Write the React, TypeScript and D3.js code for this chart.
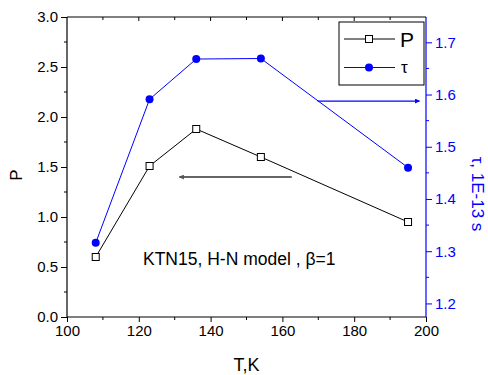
import React, { useEffect, useRef } from "react";
import * as d3 from "d3";

// data
const temps = [108, 123, 136, 154, 195];
const pValues = [0.6, 1.51, 1.88, 1.6, 0.95];
const tauValues = [1.316, 1.591, 1.668, 1.669, 1.46];

const xTicks = [100, 120, 140, 160, 180, 200];
const pTicks = [0, 0.5, 1.0, 1.5, 2.0, 2.5, 3.0];
const tauTicks = [1.2, 1.3, 1.4, 1.5, 1.6, 1.7];

const note = "KTN15, H-N model , \u03b2=1";

const W = 488,
  H = 375;
const margin = { left: 67, right: 62, top: 17, bottom: 58 };
const FONT = "'Liberation Sans', Arial, sans-serif";
const BLUE = "#0000ff";

const App = () => {
  const ref = useRef<SVGSVGElement>(null);

  useEffect(() => {
    const svg = d3.select(ref.current);
    svg.selectAll("*").remove();

    const x0 = margin.left,
      x1 = W - margin.right,
      y0 = H - margin.bottom,
      y1 = margin.top;

    const x = d3.scaleLinear().domain([100, 200]).range([x0, x1]);
    const yP = d3.scaleLinear().domain([0, 3]).range([y0, y1]);
    const yT = d3.scaleLinear().domain([1.174, 1.7485]).range([y0, y1]);

    const defs = svg.append("defs");
    const marker = (id: string, color: string) => {
      defs
        .append("marker")
        .attr("id", id)
        .attr("viewBox", "0 0 10 10")
        .attr("refX", 9)
        .attr("refY", 5)
        .attr("markerWidth", 7)
        .attr("markerHeight", 5)
        .attr("markerUnits", "userSpaceOnUse")
        .attr("orient", "auto")
        .append("path")
        .attr("d", "M0,0 L10,5 L0,10 Z")
        .attr("fill", color);
    };
    marker("arrBlue", BLUE);
    marker("arrGray", "#555");

    // bottom axis
    const bottom = svg
      .append("g")
      .attr("transform", `translate(0,${y0})`)
      .call(d3.axisBottom(x).tickValues(xTicks).tickSize(5).tickPadding(3).tickFormat(d3.format("d")));
    bottom
      .selectAll(".minor")
      .data(d3.range(110, 200, 20))
      .join("line")
      .attr("x1", (d) => x(d))
      .attr("x2", (d) => x(d))
      .attr("y1", 0)
      .attr("y2", 3)
      .attr("stroke", "#000");

    // top border with inward ticks
    svg
      .append("line")
      .attr("x1", x0)
      .attr("x2", x1)
      .attr("y1", y1)
      .attr("y2", y1)
      .attr("stroke", "#000");
    svg
      .append("g")
      .selectAll("line")
      .data(d3.range(110, 200, 10))
      .join("line")
      .attr("x1", (d) => x(d))
      .attr("x2", (d) => x(d))
      .attr("y1", y1)
      .attr("y2", (d) => y1 + (d % 20 === 0 ? 4 : 3))
      .attr("stroke", "#000");

    // left axis
    const left = svg
      .append("g")
      .attr("transform", `translate(${x0},0)`)
      .call(d3.axisLeft(yP).tickValues(pTicks).tickSize(6).tickPadding(3).tickFormat(d3.format(".1f")));
    left
      .selectAll(".minor")
      .data(d3.range(0.25, 3, 0.5))
      .join("line")
      .attr("x1", 0)
      .attr("x2", -3)
      .attr("y1", (d) => yP(d))
      .attr("y2", (d) => yP(d))
      .attr("stroke", "#000");

    // right axis
    const right = svg
      .append("g")
      .attr("transform", `translate(${x1},0)`)
      .call(d3.axisRight(yT).tickValues(tauTicks).tickSize(6).tickPadding(3).tickFormat(d3.format(".1f")));
    right
      .selectAll(".minor")
      .data([1.25, 1.35, 1.45, 1.55, 1.65])
      .join("line")
      .attr("x1", 0)
      .attr("x2", 3)
      .attr("y1", (d) => yT(d))
      .attr("y2", (d) => yT(d))
      .attr("stroke", BLUE);
    right.select(".domain").attr("d", `M0,${y0}V${y1}`);
    right.selectAll("line, path").attr("stroke", BLUE);
    right.selectAll("text").attr("fill", BLUE);

    svg.selectAll(".domain").attr("stroke-width", 1.2);
    left.select(".domain").attr("d", `M0,${y0}V${y1}`);
    bottom.select(".domain").attr("d", `M${x0},0H${x1}`);
    svg.selectAll(".tick text").attr("font-size", 15).attr("font-family", FONT);

    // lines
    const lineP = d3
      .line<number>()
      .x((d, i) => x(temps[i]))
      .y((d) => yP(d));
    const lineT = d3
      .line<number>()
      .x((d, i) => x(temps[i]))
      .y((d) => yT(d));

    svg.append("path").attr("d", lineP(pValues)).attr("fill", "none").attr("stroke", "#000").attr("stroke-width", 1);
    svg.append("path").attr("d", lineT(tauValues)).attr("fill", "none").attr("stroke", BLUE).attr("stroke-width", 1);

    svg
      .append("g")
      .selectAll("rect")
      .data(pValues)
      .join("rect")
      .attr("x", (d, i) => x(temps[i]) - 3.5)
      .attr("y", (d) => yP(d) - 3.5)
      .attr("width", 7)
      .attr("height", 7)
      .attr("fill", "#fff")
      .attr("stroke", "#000");
    svg
      .append("g")
      .selectAll("circle")
      .data(tauValues)
      .join("circle")
      .attr("cx", (d, i) => x(temps[i]))
      .attr("cy", (d) => yT(d))
      .attr("r", 4)
      .attr("fill", BLUE);

    // arrows
    svg
      .append("line")
      .attr("x1", x(169.8))
      .attr("x2", x(198.2))
      .attr("y1", yT(1.5875))
      .attr("y2", yT(1.5875))
      .attr("stroke", BLUE)
      .attr("stroke-width", 1.2)
      .attr("marker-end", "url(#arrBlue)");
    svg
      .append("line")
      .attr("x1", x(162.6))
      .attr("x2", x(131.3))
      .attr("y1", yP(1.4))
      .attr("y2", yP(1.4))
      .attr("stroke", "#666")
      .attr("stroke-width", 1.8)
      .attr("marker-end", "url(#arrGray)");

    // note
    svg
      .append("text")
      .attr("x", 143)
      .attr("y", 265)
      .attr("font-family", FONT)
      .attr("font-size", 17.5)
      .text(note);

    // legend
    const lg = svg.append("g");
    lg.append("rect")
      .attr("x", 339)
      .attr("y", 22)
      .attr("width", 85)
      .attr("height", 63)
      .attr("fill", "#fff")
      .attr("stroke", "#000");
    lg.append("line").attr("x1", 344).attr("x2", 395).attr("y1", 39).attr("y2", 39).attr("stroke", "#000");
    lg.append("rect").attr("x", 365.5).attr("y", 35.5).attr("width", 7).attr("height", 7).attr("fill", "#fff").attr("stroke", "#000");
    lg.append("text").attr("x", 400).attr("y", 46.5).attr("font-family", FONT).attr("font-size", 21).text("P");
    lg.append("line").attr("x1", 344).attr("x2", 395).attr("y1", 67.5).attr("y2", 67.5).attr("stroke", BLUE);
    lg.append("circle").attr("cx", 369).attr("cy", 67.5).attr("r", 4).attr("fill", BLUE);
    lg.append("text").attr("x", 401).attr("y", 73).attr("font-family", FONT).attr("font-size", 17).text("\u03c4");

    // axis titles
    svg
      .append("text")
      .attr("x", (x0 + x1) / 2)
      .attr("y", 371)
      .attr("text-anchor", "middle")
      .attr("font-family", FONT)
      .attr("font-size", 18)
      .text("T,K");
    svg
      .append("text")
      .attr("transform", "translate(22,175) rotate(-90)")
      .attr("text-anchor", "middle")
      .attr("font-family", FONT)
      .attr("font-size", 17)
      .text("P");
    svg
      .append("text")
      .attr("transform", "translate(472,194) rotate(90)")
      .attr("text-anchor", "middle")
      .attr("font-family", FONT)
      .attr("font-size", 17)
      .attr("fill", BLUE)
      .text("\u03c4, 1E-13 s");
  }, []);

  return (
    <div style={{ position: "absolute", left: 0, top: 0 }}>
      <svg ref={ref} width={W} height={H} style={{ display: "block", background: "#fff" }}></svg>
    </div>
  );
};

export default App;
